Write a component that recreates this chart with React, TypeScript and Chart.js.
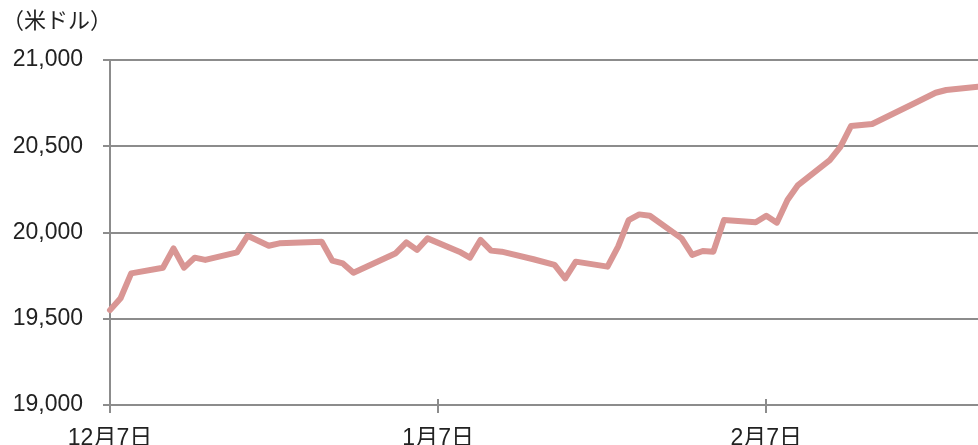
import React, { useEffect, useRef } from "react";
import { Chart, registerables } from "chart.js";

Chart.register(...registerables);

const unitLabel = "（米ドル）";
const startDate = "2022-12-07";
const dates = [
  "2022-12-07", "2022-12-08", "2022-12-09", "2022-12-12", "2022-12-13", "2022-12-14",
  "2022-12-15", "2022-12-16", "2022-12-19", "2022-12-20", "2022-12-22", "2022-12-23",
  "2022-12-27", "2022-12-28", "2022-12-29", "2022-12-30", "2023-01-03", "2023-01-04",
  "2023-01-05", "2023-01-06", "2023-01-09", "2023-01-10", "2023-01-11", "2023-01-12",
  "2023-01-13", "2023-01-16", "2023-01-18", "2023-01-19", "2023-01-20", "2023-01-23",
  "2023-01-24", "2023-01-25", "2023-01-26", "2023-01-27", "2023-01-30", "2023-01-31",
  "2023-02-01", "2023-02-02", "2023-02-03", "2023-02-06", "2023-02-07", "2023-02-08",
  "2023-02-09", "2023-02-10", "2023-02-13", "2023-02-14", "2023-02-15", "2023-02-17",
  "2023-02-21", "2023-02-23", "2023-02-24", "2023-02-27",
];
const values = [
  19550, 19619, 19763, 19796, 19908, 19796,
  19854, 19841, 19885, 19981, 19923, 19937,
  19947, 19837, 19821, 19767, 19880, 19943,
  19899, 19966, 19889, 19854, 19957, 19895,
  19889, 19845, 19812, 19734, 19831, 19802,
  19918, 20072, 20105, 20097, 19966, 19870,
  19893, 19889, 20072, 20059, 20097, 20057,
  20188, 20275, 20420, 20497, 20617, 20629,
  20749, 20810, 20826, 20845,
];
const tickDates = ["2022-12-07", "2023-01-07", "2023-02-07"];
const tickLabels = ["12月7日", "1月7日", "2月7日"];
const endDate = "2023-02-27";
const yMin = 19000;
const yMax = 21000;
const yStep = 500;

const DAY = 86400000;
const dayOf = (d: string) => Math.round((Date.parse(d + "T00:00:00Z") - Date.parse(startDate + "T00:00:00Z")) / DAY);

const FONT = "'Liberation Sans', 'Noto Sans CJK JP', sans-serif";
const GRID = "#8c8c8c";

export default function App() {
  const ref = useRef<HTMLCanvasElement>(null);
  useEffect(() => {
    if (!ref.current) return;
    const points = dates.map((d, i) => ({ x: dayOf(d), y: values[i] }));
    const tickDays = tickDates.map(dayOf);
    const titlePlugin = {
      id: "unitTitle",
      afterDraw(chart: any) {
        const ctx = chart.ctx;
        ctx.save();
        ctx.fillStyle = "#222";
        ctx.font = `22px ${FONT}`;
        ctx.textBaseline = "alphabetic";
        ctx.textAlign = "left";
        ctx.fillText(unitLabel, 2, 28);
        ctx.restore();
      },
    };
    const crossTicks = {
      id: "crossTicks",
      afterDraw(chart: any) {
        const ctx = chart.ctx;
        const xs = chart.scales.x;
        const b = chart.chartArea.bottom;
        ctx.save();
        ctx.strokeStyle = GRID;
        ctx.lineWidth = 2;
        tickDays.forEach((d) => {
          const px = Math.round(xs.getPixelForValue(d));
          ctx.beginPath();
          ctx.moveTo(px, b - 6);
          ctx.lineTo(px, b + 8);
          ctx.stroke();
        });
        ctx.restore();
      },
    };
    const chart = new Chart(ref.current, {
      type: "line",
      data: {
        datasets: [
          {
            data: points,
            borderColor: "#d99694",
            borderWidth: 6,
            pointRadius: 0,
            tension: 0,
            borderJoinStyle: "round",
            borderCapStyle: "round",
            fill: false,
          },
        ],
      },
      options: {
        animation: false,
        responsive: false,
        clip: false as any,
        layout: { padding: { top: 60, right: 0, left: 0, bottom: 0 } },
        plugins: { legend: { display: false }, tooltip: { enabled: false }, title: { display: false } },
        scales: {
          x: {
            type: "linear",
            min: 0,
            max: dayOf(endDate),
            afterBuildTicks: (s: any) => {
              s.ticks = tickDays.map((v) => ({ value: v }));
            },
            afterFit: (s: any) => {
              s.height = 40;
            },
            ticks: {
              autoSkip: false,
              maxRotation: 0,
              padding: 12,
              color: "#222",
              font: { family: FONT, size: 23 },
              callback: (v: any) => {
                const i = tickDays.indexOf(Number(v));
                return i >= 0 ? tickLabels[i] : "";
              },
            },
            grid: { display: false },
            border: { display: true, color: GRID, width: 2 },
          },
          y: {
            min: yMin,
            max: yMax,
            afterFit: (s: any) => {
              s.width = 110;
            },
            ticks: {
              stepSize: yStep,
              padding: 20,
              color: "#222",
              font: { family: FONT, size: 23 },
              callback: (v: any) => Number(v).toLocaleString("en-US"),
            },
            grid: { color: GRID, lineWidth: 2, tickLength: 7, drawTicks: true },
            border: { display: true, color: GRID, width: 2 },
          },
        },
      },
      plugins: [titlePlugin, crossTicks],
    });
    return () => chart.destroy();
  }, []);
  return (
    <div style={{ position: "fixed", left: 0, top: 0, width: 978, height: 445, background: "#fff" }}>
      <canvas ref={ref} width={978} height={445} style={{ display: "block" }} />
    </div>
  );
}
